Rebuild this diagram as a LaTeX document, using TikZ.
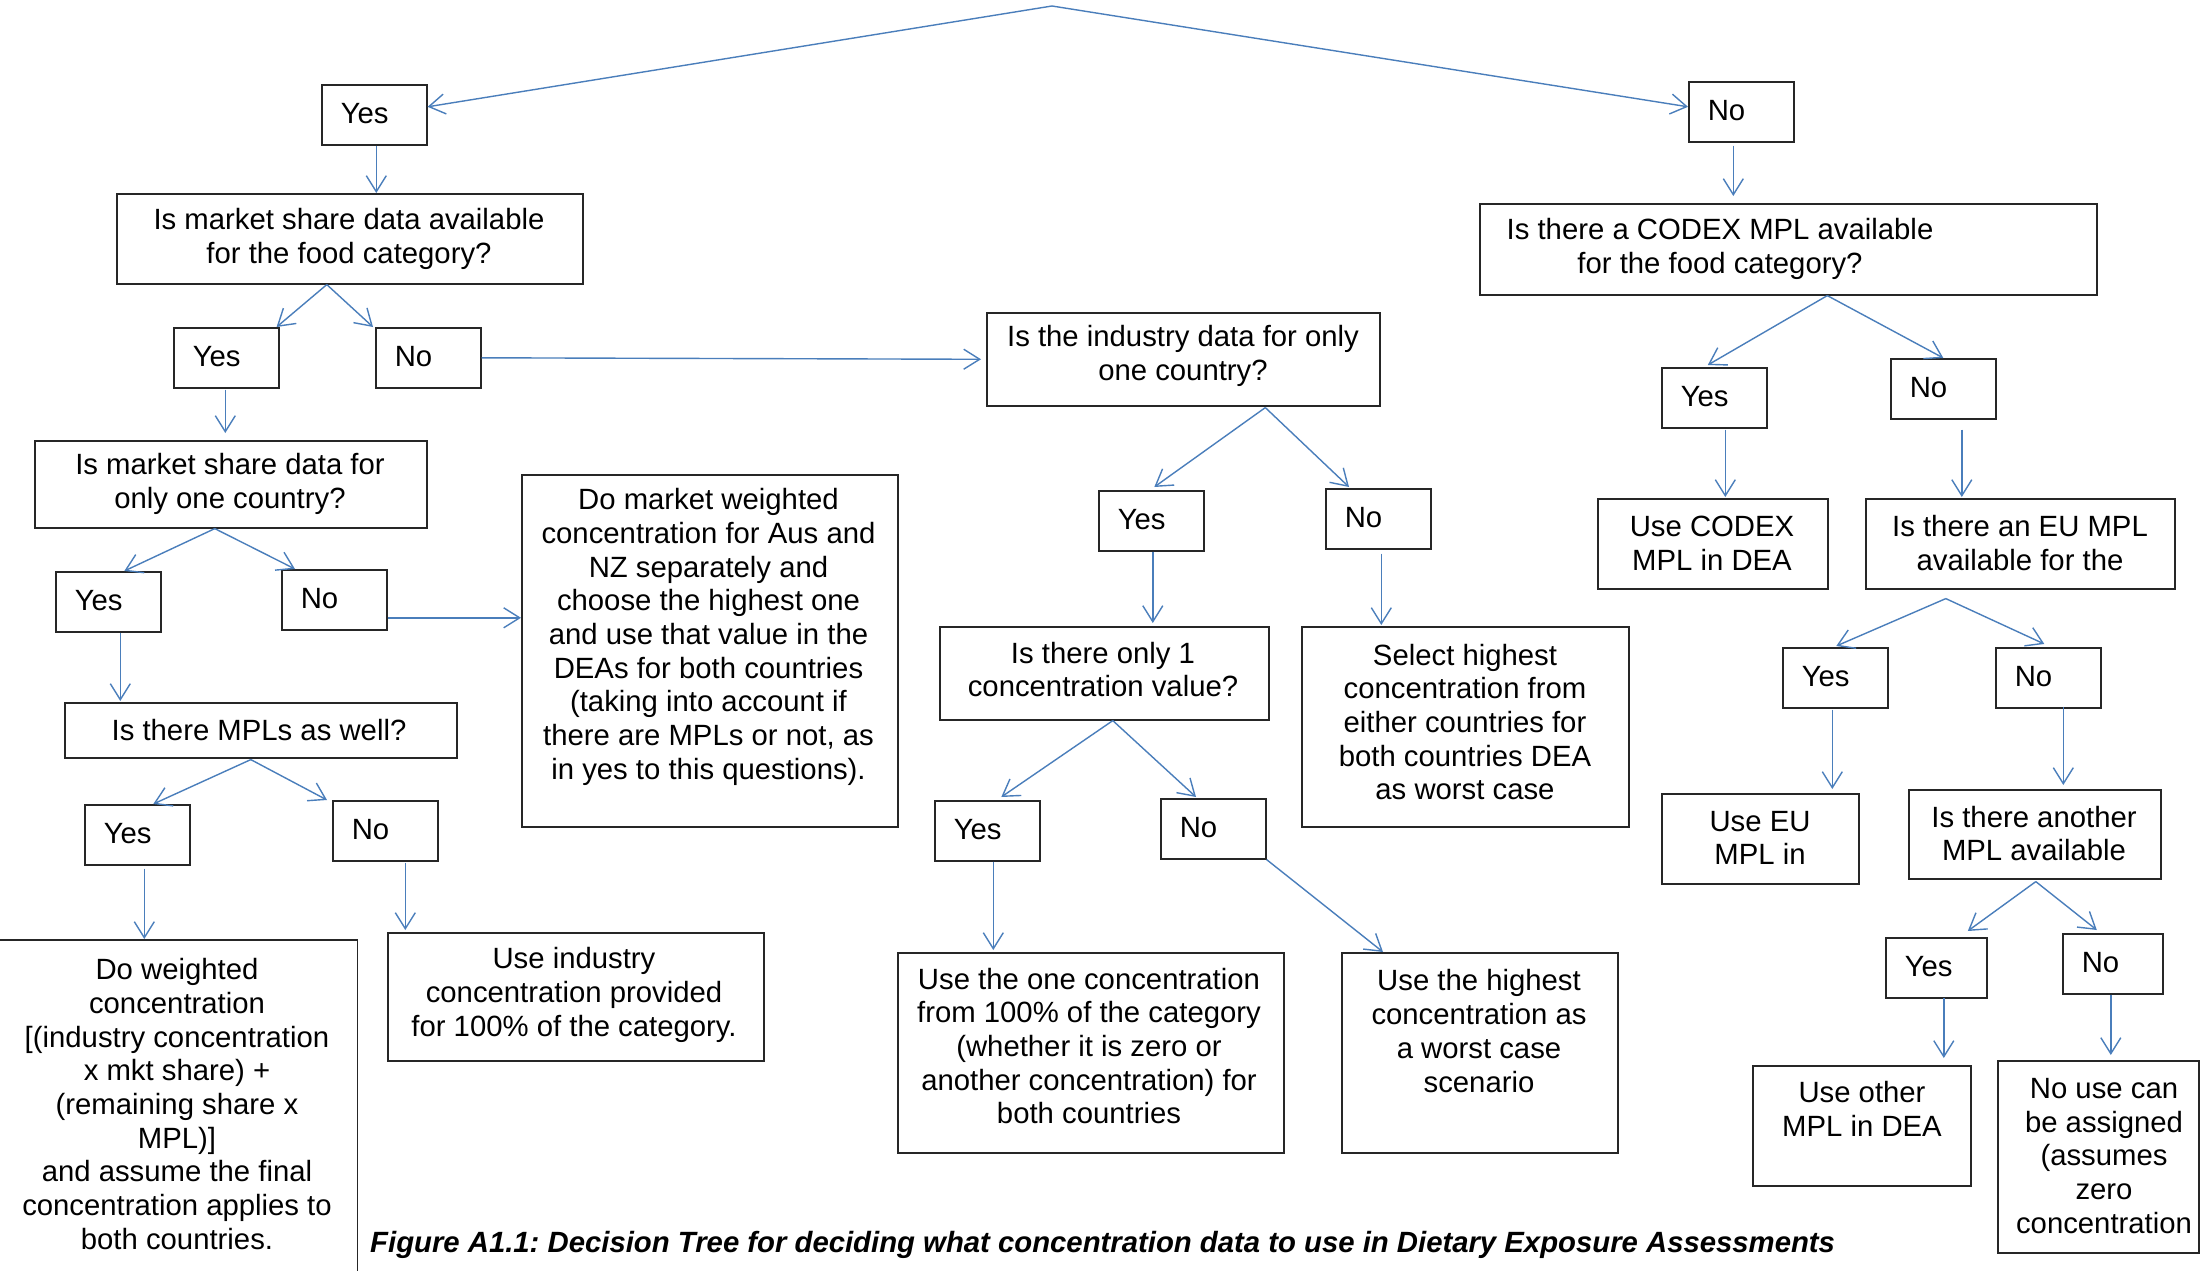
\documentclass[tikz,border=0pt]{standalone}
\usepackage{fontspec}
\setmainfont{Liberation Sans}
\usetikzlibrary{arrows.meta,calc}
\definecolor{lnblue}{HTML}{4A7EBB}
\definecolor{boxline}{HTML}{262626}
\frenchspacing
\begin{document}
\begin{tikzpicture}[x=1pt,y=-1pt,
  font=\fontsize{29.3}{33.7}\selectfont,
  box/.style={draw=boxline, line width=1.6pt, anchor=north west, inner sep=0pt},
  yn/.style={draw=boxline, line width=1.6pt, anchor=north west, inner xsep=19pt, inner ysep=0pt, minimum height=60pt, text width=67pt, text height=21pt, text depth=4pt, align=left},
  txt/.style={align=center, inner sep=0pt},
  arr/.style={draw=lnblue, line width=1.4pt, -{Straight Barb[length=16pt,width=20pt]}},
]
\useasboundingbox (0,0) rectangle (2201,1271);
\fill[white] (0,0) rectangle (2201,1271);

% ---------- Yes / No boxes ----------
\node[yn] (yes1) at (321,84) {Yes};
\node[yn] (no1) at (1688,81) {No};
\node[yn] (yes2) at (173,327) {Yes};
\node[yn] (no2) at (375,327) {No};
\node[yn] (yes3) at (55,571) {Yes};
\node[yn] (no3) at (281,569) {No};
\node[yn] (yes6) at (84,804) {Yes};
\node[yn] (no6) at (332,800) {No};
\node[yn] (yes5) at (1098,490) {Yes};
\node[yn] (no5) at (1325,488) {No};
\node[yn] (yes7) at (934,800) {Yes};
\node[yn] (no8) at (1160,798) {No};
\node[yn] (yes4) at (1661,367) {Yes};
\node[yn] (no4) at (1890,358) {No};
\node[yn] (yes9) at (1782,647) {Yes};
\node[yn] (no9) at (1995,647) {No};
\node[yn, text width=63pt] (yes10) at (1885,937) {Yes};
\node[yn, text width=62pt] (no10) at (2062,933) {No};

% ---------- question / action boxes ----------
\node[box, minimum width=466, minimum height=90] (q1) at (116,193) {};
\node[box, minimum width=392, minimum height=87] (q3) at (34,440) {};
\node[box, minimum width=392, minimum height=55] (q5) at (64,702) {};
\node[box, draw=none, minimum width=356, minimum height=360] (dw) at (0,940) {};
\draw[boxline, line width=1.6pt] (dw.north west) -- (dw.north east) -- (dw.south east);
\node[box, minimum width=376, minimum height=128] (ui) at (387,932) {};
\node[box, minimum width=376, minimum height=352] (dm) at (521,474) {};
\node[box, minimum width=393, minimum height=93] (q2) at (986,312) {};
\node[box, minimum width=329, minimum height=93] (q6) at (939,626) {};
\node[box, minimum width=327, minimum height=200] (sh) at (1301,626) {};
\node[box, minimum width=386, minimum height=200] (uo) at (897,952) {};
\node[box, minimum width=276, minimum height=200] (uh) at (1341,952) {};
\node[box, minimum width=617, minimum height=91] (q4) at (1479,203) {};
\node[box, minimum width=230, minimum height=90] (uc) at (1597,498) {};
\node[box, minimum width=309, minimum height=90] (eu) at (1865,498) {};
\node[box, minimum width=197, minimum height=90] (ueu) at (1661,793) {};
\node[box, minimum width=252, minimum height=89] (ia) at (1908,789) {};
\node[box, minimum width=218, minimum height=120] (uom) at (1752,1065) {};
\node[box, minimum width=201, minimum height=192] (nu) at (1997,1060) {};

% ---------- texts ----------
\node[txt] (q1t) at (349,239) {Is market share data available\\for the food category?};
\node[txt] (q3t) at (230,484) {Is market share data for\\only one country?};
\node[txt] (q5t) at (259,730) {Is there MPLs as well?};
\node[txt] (dwt) at (177,1104) {Do weighted\\concentration\\{[}(industry concentration\\x mkt share) +\\(remaining share x\\MPL)]\\and assume the final\\concentration applies to\\both countries.};
\node[txt] (uit) at (574,995) {Use industry\\concentration provided\\for 100\% of the category.};
\node[txt] (dmt) at (708.5,637) {Do market weighted\\concentration for Aus and\\NZ separately and\\choose the highest one\\and use that value in the\\DEAs for both countries\\(taking into account if\\there are MPLs or not, as\\in yes to this questions).};
\node[txt] (q2t) at (1183,356) {Is the industry data for only\\one country?};
\node[txt] (q6t) at (1103,669.5) {Is there only 1\\concentration value?};
\node[txt] (sht) at (1465,722) {Select highest\\concentration from\\either countries for\\both countries DEA\\as worst case};
\node[txt] (uot) at (1089,1046) {Use the one concentration\\from 100\% of the category\\(whether it is zero or\\another concentration) for\\both countries};
\node[txt] (uht) at (1479,1031) {Use the highest\\concentration as\\a worst case\\scenario};
\node[txt] (q4t) at (1720,248.6) {Is there a CODEX MPL available\\for the food category?};
\node[txt] (uct) at (1712,543) {Use CODEX\\MPL in DEA};
\node[txt] (eut) at (2020,543) {Is there an EU MPL\\available for the};
\node[txt] (ueut) at (1760,838) {Use EU\\MPL in};
\node[txt] (iat) at (2034,833.5) {Is there another\\MPL available};
\node[txt] (uomt) at (1862,1109) {Use other\\MPL in DEA};
\node[txt] (nut) at (2104,1156) {No use can\\be assigned\\(assumes\\zero\\concentration};
\node[anchor=base west, inner sep=0pt, font=\fontsize{29.3}{33.7}\selectfont\bfseries\itshape] (cap) at (370,1252) {Figure A1.1: Decision Tree for deciding what concentration data to use in Dietary Exposure Assessments};

% ---------- connectors ----------
\coordinate (top) at (1052,6);
\draw[arr] (top) -- ($(yes1.east)+(0,-8)$);
\draw[arr] (top) -- ($(no1.west)+(0,-5)$);

\coordinate (c1) at ($(yes1.south)+(2,0)$);
\draw[arr] (c1) -- (c1 |- q1.north);
\coordinate (s1) at ($(q1.south)+(-23,0)$);
\draw[arr] (s1) -- ($(yes2.north east)+(-3,0)$);
\draw[arr] (s1) -- ($(no2.north west)+(-2,0)$);

\coordinate (c2) at ($(yes2.south)+(-1,1)$);
\draw[arr, shorten >=7pt] (c2) -- (c2 |- q3.north);
\draw[arr, shorten >=5pt] (no2.east) -- (q2.west);

\coordinate (s3) at ($(q3.south)+(-16,0)$);
\draw[arr] (s3) -- ($(yes3.north)+(16,0)$);
\draw[arr] (s3) -- ($(no3.north west)+(14,0)$);
\coordinate (c3) at ($(no3.east)+(0,18)$);
\draw[arr] (c3) -- (c3 -| dm.west);

\coordinate (c4) at ($(yes3.south)+(12,0)$);
\draw[arr, shorten >=1pt] (c4) -- (c4 |- q5.north);
\coordinate (s5) at ($(q5.south)+(-10,1)$);
\draw[arr] (s5) -- ($(yes6.north)+(16,0)$);
\draw[arr] (s5) -- ($(no6.north west)+(-5,0)$);

\coordinate (c6) at ($(yes6.south)+(7,3)$);
\draw[arr, shorten >=1pt] (c6) -- (c6 |- dw.north);
\coordinate (c7) at ($(no6.south)+(20,1)$);
\draw[arr, shorten >=2pt] (c7) -- (c7 |- ui.north);

\coordinate (s2) at ($(q2.south)+(82,1)$);
\draw[arr] (s2) -- ($(yes5.north)+(3,-3)$);
\draw[arr] (s2) -- ($(no5.north west)+(24,-1)$);
\coordinate (c8) at ($(yes5.south)+(1.5,0)$);
\draw[arr, shorten >=3pt] (c8) -- (c8 |- q6.north);
\coordinate (c9) at ($(no5.south)+(3,4)$);
\draw[arr, shorten >=1pt] (c9) -- (c9 |- sh.north);

\coordinate (s6) at ($(q6.south)+(8.5,0)$);
\draw[arr] (s6) -- ($(yes7.north)+(14,-3)$);
\draw[arr] (s6) -- ($(no8.north west)+(36,-1)$);
\coordinate (c10) at ($(yes7.south)+(6,0)$);
\draw[arr, shorten >=2pt] (c10) -- (c10 |- uo.north);
\draw[arr] (no8.south east) -- ($(uh.north west)+(42,0)$);

\coordinate (c11) at ($(no1.south)+(-8,3)$);
\draw[arr, shorten >=7pt] (c11) -- (c11 |- q4.north);
\coordinate (s4) at ($(q4.south)+(39,0)$);
\draw[arr] (s4) -- ($(yes4.north)+(-6.5,-2)$);
\draw[arr] (s4) -- (no4.north);
\coordinate (c12) at ($(yes4.south)+(11,1)$);
\draw[arr, shorten >=1pt] (c12) -- (c12 |- uc.north);
\coordinate (c13) at ($(no4.south)+(18.5,10)$);
\draw[arr, shorten >=1pt] (c13) -- (c13 |- eu.north);

\coordinate (s7) at ($(eu.south)+(-74.5,9)$);
\draw[arr] (s7) -- ($(yes9.north)+(1,-1)$);
\draw[arr] (s7) -- ($(no9.north)+(-4,-3)$);
\coordinate (c14) at ($(yes9.south)+(-3,1)$);
\draw[arr, shorten >=4pt] (c14) -- (c14 |- ueu.north);
\coordinate (c15) at ($(no9.south)+(15,-2)$);
\draw[arr, shorten >=4pt] (c15) -- (c15 |- ia.north);

\coordinate (s8) at ($(ia.south)+(1,2)$);
\draw[arr] (s8) -- ($(yes10.north)+(31.5,-6)$);
\draw[arr] (s8) -- ($(no10.north)+(-16,-3)$);
\coordinate (c16) at ($(yes10.south)+(7.5,-1)$);
\draw[arr, shorten >=7pt] (c16) -- (c16 |- uom.north);
\coordinate (c17) at ($(no10.south)+(-2,0)$);
\draw[arr, shorten >=5pt] (c17) -- (c17 |- nu.north);
\end{tikzpicture}
\end{document}
